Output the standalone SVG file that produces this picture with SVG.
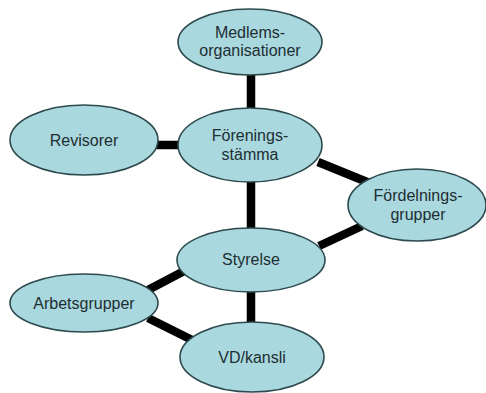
<svg xmlns="http://www.w3.org/2000/svg" width="486" height="393" viewBox="0 0 486 393">
<style>
.n ellipse{fill:#a9d8de;stroke:#2d4a4e;stroke-width:1.6}
.n text{font-family:"Liberation Sans",Arial,sans-serif;font-size:16px;fill:#1e2e32;text-anchor:middle}
#edges line{stroke:#000;stroke-width:8.5}
</style>
<rect width="486" height="393" fill="#fff"/>
<g id="edges">
<line x1="251" y1="74" x2="251" y2="110"/>
<line x1="156" y1="145" x2="180" y2="145"/>
<line x1="318" y1="162" x2="372" y2="184"/>
<line x1="251" y1="180" x2="251" y2="230"/>
<line x1="319" y1="246" x2="362" y2="226"/>
<line x1="186" y1="270" x2="148" y2="290"/>
<line x1="251" y1="290" x2="251" y2="324"/>
<line x1="148" y1="318" x2="192" y2="340"/>
</g>
<g id="medlems" class="n"><ellipse cx="250" cy="42" rx="72" ry="33"/><text x="250" y="38">Medlems-</text><text x="250" y="56">organisationer</text></g>
<g id="revisorer" class="n"><ellipse cx="84" cy="140" rx="74" ry="35"/><text x="84" y="146">Revisorer</text></g>
<g id="foreningsstamma" class="n"><ellipse cx="250" cy="145" rx="72" ry="37"/><text x="250" y="141">Förenings-</text><text x="250" y="160">stämma</text></g>
<g id="fordelningsgrupper" class="n"><ellipse cx="417" cy="205" rx="69" ry="36"/><text x="418" y="201">Fördelnings-</text><text x="418" y="220">grupper</text></g>
<g id="styrelse" class="n"><ellipse cx="251" cy="260" rx="74" ry="32"/><text x="251" y="265">Styrelse</text></g>
<g id="arbetsgrupper" class="n"><ellipse cx="84" cy="303" rx="74" ry="29"/><text x="84" y="309">Arbetsgrupper</text></g>
<g id="vdkansli" class="n"><ellipse cx="252" cy="357" rx="72" ry="35"/><text x="252" y="363">VD/kansli</text></g>
</svg>
